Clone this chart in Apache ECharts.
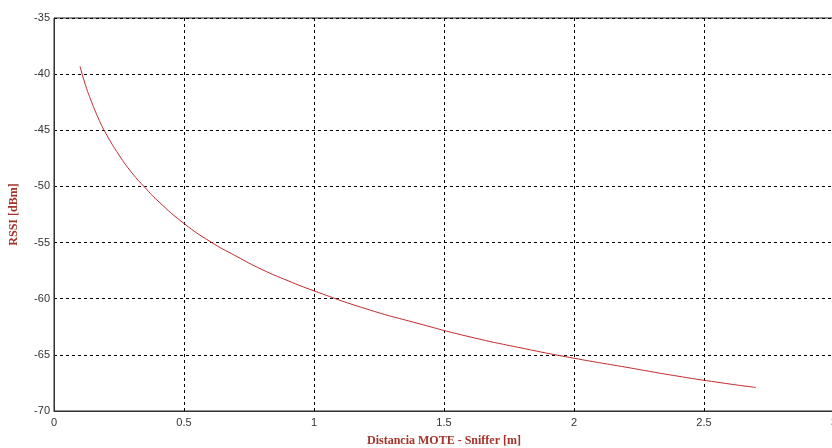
<!DOCTYPE html>
<html>
<head>
<meta charset="utf-8">
<script src="https://cdn.jsdelivr.net/npm/echarts@6/dist/echarts.min.js"></script>
<style>html,body{margin:0;padding:0;background:#fff;}#c{width:832px;height:448px;}</style>
</head>
<body>
<div id="c"></div>
<script>
// Distance (m) and RSSI (dBm)
var distance = [0.1, 0.12, 0.14, 0.17, 0.2, 0.25, 0.3, 0.35, 0.4, 0.5, 0.6, 0.7, 0.8, 0.9, 1.0, 1.2, 1.4, 1.6, 1.8, 2.0, 2.2, 2.4, 2.6, 2.7];
var rssi = [-39.3, -40.9, -42.2, -43.9, -45.3, -47.2, -48.8, -50.1, -51.3, -53.3, -54.9, -56.2, -57.4, -58.4, -59.3, -60.9, -62.2, -63.4, -64.4, -65.3, -66.1, -66.9, -67.6, -67.9];
var xAxisTitle = 'Distancia MOTE - Sniffer [m]';
var yAxisTitle = 'RSSI [dBm]';

var data = distance.map(function (d, i) { return [d, rssi[i]]; });
var chart = echarts.init(document.getElementById('c'), null, {renderer: 'canvas'});
var labelFont = {color: '#333', fontFamily: 'Liberation Sans, Arial, sans-serif', fontSize: 11};
var titleFont = {color: '#a3332a', fontFamily: 'Liberation Serif, Times New Roman, serif', fontSize: 12, fontWeight: 'bold'};
chart.setOption({
  animation: false,
  backgroundColor: '#fff',
  grid: {left: 54, top: 18, right: -2, bottom: 37, outerBoundsMode: 'none', containLabel: false,
         show: true, borderColor: '#222', borderWidth: 1, backgroundColor: 'transparent'},
  xAxis: {
    type: 'value', min: 0, max: 3, interval: 0.5,
    name: xAxisTitle, nameLocation: 'middle', nameGap: 24, nameTextStyle: titleFont,
    axisLine: {show: true, lineStyle: {color: '#333', width: 1}},
    axisTick: {show: false},
    axisLabel: Object.assign({margin: 6, formatter: function (v) { return String(v); }}, labelFont),
    splitLine: {show: true, lineStyle: {color: '#000', type: [3, 3], width: 1}}
  },
  yAxis: {
    type: 'value', min: -70, max: -35, interval: 5,
    name: yAxisTitle, nameLocation: 'middle', nameGap: 34, nameTextStyle: titleFont,
    axisLine: {show: true, lineStyle: {color: '#333', width: 1}},
    axisTick: {show: false},
    axisLabel: Object.assign({margin: 4}, labelFont),
    splitLine: {show: true, lineStyle: {color: '#000', type: [3, 3], width: 1}}
  },
  series: [{
    type: 'line', data: data, smooth: true, showSymbol: false,
    lineStyle: {color: '#c0282a', width: 1}
  }]
});
</script>
</body>
</html>
